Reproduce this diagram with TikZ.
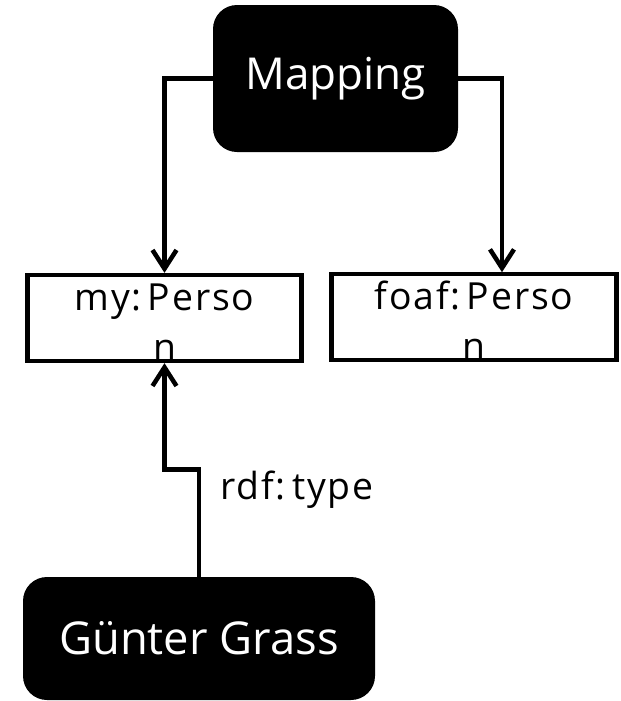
\documentclass[tikz,border=0pt]{standalone}
\usepackage{fontspec}
\setmainfont{Open Sans}
\usetikzlibrary{arrows.meta}

\newlength\unitPx
\setlength\unitPx{0.75pt}

\tikzset{
  darkbox/.style={fill=black, text=white, rounded corners=18pt, inner sep=0pt},
  classbox/.style={draw, line width=3.2pt, inner sep=0pt, align=center,
                   font=\addfontfeature{LetterSpace=5}\fontsize{28}{38}\selectfont},
  link/.style={line width=3.4pt, -{Straight Barb[length=14pt, width=18pt]}}
}

\begin{document}
\begin{tikzpicture}[x=\unitPx, y=-\unitPx]

  % === Frame ===
  \useasboundingbox (0,0) rectangle (621,701);

  % === Mapping ===
  \node[darkbox, minimum width=245\unitPx, minimum height=147\unitPx,
        font=\fontsize{33}{40}\selectfont] (map) at (335.5,78.5) {Mapping};

  % === Classes (label wraps onto a second line) ===
  \node[classbox, minimum width=274\unitPx, minimum height=86\unitPx] (my) at (164.5,318) {\rule{0pt}{26pt}my:\,Perso\\n};
  \node[classbox, minimum width=285\unitPx, minimum height=84\unitPx] (foaf) at (474,317) {\rule{0pt}{26pt}foaf:\,Perso\\n};

  % === Instance ===
  \node[darkbox, minimum width=352\unitPx, minimum height=123\unitPx,
        font=\fontsize{34}{40}\selectfont] (gg) at (199,638.5) {Günter Grass};

  % === Mapping links ===
  \draw[link] (map.west) -| (my.north);
  \draw[link] (map.east) -| ([xshift=21pt]foaf.north);

  % === Type link ===
  \draw[link] (gg.north) -- ++(0,-107) -| (my.south);
  \node[font=\addfontfeature{LetterSpace=5}\fontsize{28}{34}\selectfont] (rdf) at (297,490) {rdf:\,type};

\end{tikzpicture}
\end{document}
